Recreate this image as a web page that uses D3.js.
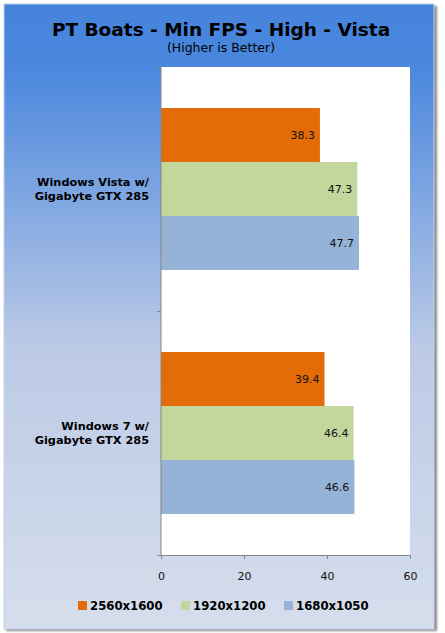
<!DOCTYPE html>
<html>
<head>
<meta charset="utf-8">
<script src="https://cdn.jsdelivr.net/npm/d3@7"></script>
<style>
  body { margin: 0; background: #fff; }
  svg { display: block; }
  text { font-family: 'DejaVu Sans', Verdana, sans-serif; }
</style>
</head>
<body>
<div id="chart"></div>
<script>
// chart data
var systems = ['Windows Vista w/|Gigabyte GTX 285', 'Windows 7 w/|Gigabyte GTX 285'];
var resolutions = ['2560x1600', '1920x1200', '1680x1050'];
var fps2560 = [38.3, 39.4];
var fps1920 = [47.3, 46.4];
var fps1680 = [47.7, 46.6];
var xTicks = [0, 20, 40, 60];

var colors = ['#E36C09', '#C3D69B', '#95B3D7'];
var seriesVals = [fps2560, fps1920, fps1680];

var width = 445, height = 633;

var svg = d3.select('#chart').append('svg')
    .attr('width', width)
    .attr('height', height);

var defs = svg.append('defs');
var grad = defs.append('linearGradient')
    .attr('id', 'bg')
    .attr('x1', 0).attr('y1', 0).attr('x2', 0).attr('y2', 1);
grad.append('stop').attr('offset', '0%').attr('stop-color', '#4683DC');
grad.append('stop').attr('offset', '10%').attr('stop-color', '#4A87DD');
grad.append('stop').attr('offset', '55%').attr('stop-color', '#BCCAE6');
grad.append('stop').attr('offset', '100%').attr('stop-color', '#D6DEEC');

var blur = defs.append('filter').attr('id', 'shadow');
blur.append('feGaussianBlur').attr('stdDeviation', 1.2);

// drop shadow then panel
svg.append('rect')
    .attr('x', 6).attr('y', 6)
    .attr('width', 431).attr('height', 625)
    .attr('fill', '#8a8a8a')
    .attr('filter', 'url(#shadow)');
svg.append('rect')
    .attr('x', 4).attr('y', 4)
    .attr('width', 430).attr('height', 625)
    .attr('fill', 'url(#bg)')
    .attr('stroke', '#c4d2ec')
    .attr('stroke-width', 1);

// title
svg.append('text')
    .attr('x', 221).attr('y', 36)
    .attr('text-anchor', 'middle')
    .style('font-size', '18.5px')
    .style('font-weight', 'bold')
    .text('PT Boats - Min FPS - High - Vista');
svg.append('text')
    .attr('x', 221).attr('y', 52)
    .attr('text-anchor', 'middle')
    .style('font-size', '12.5px')
    .text('(Higher is Better)');

var margin = {left: 161, top: 67, right: 410, bottom: 555};

var x = d3.scaleLinear()
    .domain([0, 60])
    .range([margin.left, margin.right]);

var y = d3.scaleBand()
    .domain(systems)
    .range([margin.top, margin.bottom]);

// plot area
svg.append('rect')
    .attr('x', margin.left).attr('y', margin.top)
    .attr('width', margin.right - margin.left)
    .attr('height', margin.bottom - margin.top)
    .attr('fill', '#fff');

var inner = d3.scaleBand()
    .domain(resolutions)
    .range([0, y.bandwidth()])
    .paddingOuter(0.76)
    .paddingInner(0);

// bars
resolutions.forEach(function(res, s) {
  var g = svg.append('g');
  g.selectAll('rect')
      .data(seriesVals[s])
      .enter().append('rect')
      .attr('x', x(0))
      .attr('y', function(d, i) { return y(systems[i]) + inner(res); })
      .attr('width', function(d) { return x(d) - x(0); })
      .attr('height', inner.bandwidth())
      .attr('fill', colors[s]);
  g.selectAll('text')
      .data(seriesVals[s])
      .enter().append('text')
      .attr('x', function(d) { return x(d) - 5; })
      .attr('y', function(d, i) { return y(systems[i]) + inner(res) + inner.bandwidth() / 2 + 4; })
      .attr('text-anchor', 'end')
      .style('font-size', '11px')
      .attr('fill', '#111')
      .text(function(d) { return d.toFixed(1); });
});

// x axis
var xAxis = svg.append('g')
    .attr('transform', 'translate(0,' + margin.bottom + ')')
    .call(d3.axisBottom(x).tickValues(xTicks).tickSize(4).tickPadding(13));
xAxis.select('.domain').attr('stroke', '#868686');
xAxis.selectAll('line').attr('stroke', '#868686');
xAxis.selectAll('text')
    .style('font-size', '11px')
    .style('font-family', "'DejaVu Sans', Verdana, sans-serif")
    .attr('fill', '#111');

// y axis: ticks on band edges
var yEdges = [margin.top, y(systems[1]), margin.bottom];
var yAxis = svg.append('g');
yAxis.append('line')
    .attr('x1', margin.left).attr('x2', margin.left)
    .attr('y1', margin.top).attr('y2', margin.bottom)
    .attr('stroke', '#868686');
yAxis.selectAll('line.tick')
    .data(yEdges)
    .enter().append('line')
    .attr('class', 'tick')
    .attr('x1', margin.left - 4).attr('x2', margin.left)
    .attr('y1', function(d) { return d + 0.5; })
    .attr('y2', function(d) { return d + 0.5; })
    .attr('stroke', '#868686');

// category labels
systems.forEach(function(name) {
  var lines = name.split('|');
  var cy = y(name) + y.bandwidth() / 2;
  var t = svg.append('text')
      .attr('text-anchor', 'end')
      .style('font-size', '11.3px')
      .style('font-weight', 'bold');
  lines.forEach(function(l, i) {
    t.append('tspan')
        .attr('x', 149)
        .attr('y', cy - 3 + i * 14)
        .text(l);
  });
});

// legend
var legendX = [78, 181, 284];
var legend = svg.append('g');
resolutions.forEach(function(res, i) {
  legend.append('rect')
      .attr('x', legendX[i]).attr('y', 601)
      .attr('width', 9).attr('height', 9)
      .attr('fill', colors[i]);
  legend.append('text')
      .attr('x', legendX[i] + 12).attr('y', 610)
      .style('font-size', '11.7px')
      .style('font-weight', 'bold')
      .text(res);
});
</script>
</body>
</html>
